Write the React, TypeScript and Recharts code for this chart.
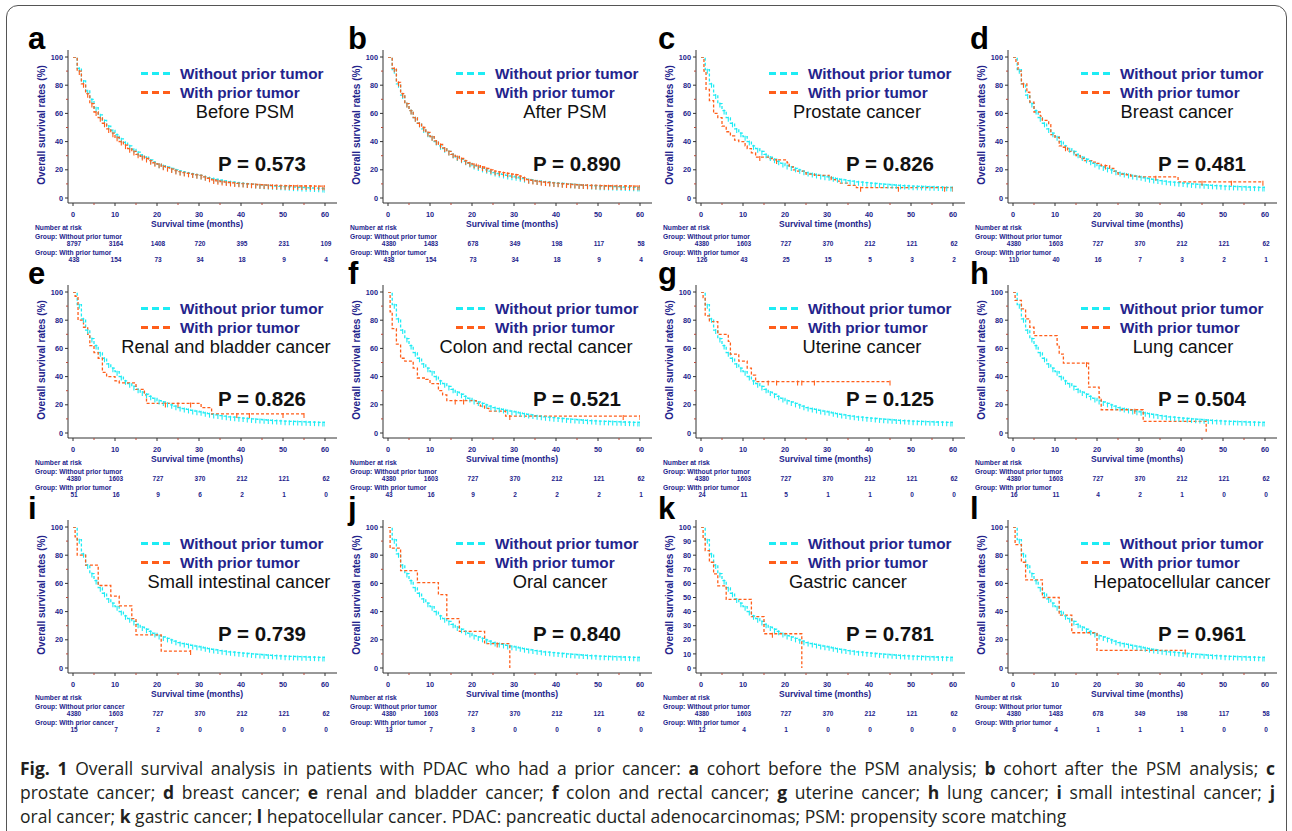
import React from 'react';
import { LineChart, Line, XAxis, YAxis } from 'recharts';

// ---------------- data ----------------
const xTicks = [0, 5, 10, 15, 20, 25, 30, 35, 40, 45, 50, 55, 60];
const yTicks = [0, 10, 20, 30, 40, 50, 60, 70, 80, 90, 100];
const riskTimes = [0, 10, 20, 30, 40, 50, 60];

// monthly survival (%), index = month
const survWithoutBeforePSM = [100,92,83,76,70,64,59,55,51,48,45,42,39.5,37,34.5,32.5,30.5,29,27,25.5,24,23,22,21,20,19.2,18.5,17.8,17.2,16.6,16,15.2,14.5,13.8,13.2,12.6,12.1,11.6,11.2,10.8,10.4,10.1,9.8,9.5,9.3,9.1,8.9,8.7,8.5,8.3,8.1,7.9,7.7,7.6,7.5,7.3,7.2,7.1,7.0,6.8,6.6];
const survWithBeforePSM = [100,90,81,74,67,61,57,53,49,46,43,40,37.5,35,33,31,29.5,28,26.5,25,24,22.5,21.5,20.5,19.5,18.7,18,17.5,17,16.5,16,15,14,12.8,12.2,11.7,11.3,11,10.7,10.4,10.2,10,9.8,9.6,9.4,9.3,9.1,9,8.9,8.8,8.7,8.7,8.6,8.6,8.5,8.5,8.5,8.4,8.4,8.4,8.4];
const survWithoutMain = [100,91,81,73,67,62,57,53,49,46,43.5,40,37,35,33,31,29,27.5,26,24.5,23,22,21,20,19,18,17.3,16.7,16,15.5,15,14.3,13.7,13.2,12.8,12.3,11.9,11.5,11.2,10.9,10.6,10.3,10,9.8,9.6,9.4,9.2,9,8.8,8.6,8.4,8.3,8.2,8.1,8,7.9,7.8,7.7,7.6,7.5,7.4];
const survWithAfterPSM = [100,92,82,74,67,62,57,53,50,46.5,43.5,40.5,38,35.5,33,31,29.5,28,26.5,25,24,23,22,21,20,19,18.5,18,17.5,17,16.5,15.5,14.5,13,12.5,12,11.6,11.3,11,10.7,10.4,10.1,9.9,9.7,9.5,9.3,9.2,9.1,9,8.9,8.8,8.7,8.7,8.6,8.6,8.5,8.5,8.5,8.4,8.4,8.4];

// step curves [month, survival %] for "with prior tumor"
const stepsProstate = [[0,100],[0.7,90],[1.2,77],[2,69],[3,60],[4,57],[5,51],[6,47],[7,44],[8,41],[9,40],[10.5,37],[11,35],[12,32],[13,29],[16,28],[17,27],[20.5,25],[21,22],[22,20],[23,19],[25,17],[27,16],[30.5,15],[31,13],[32,12],[33,10.5],[35,9],[37,7.3],[60,7.3]];
const censorProstate = [14, 18, 38, 47, 58];
const stepsBreast = [[0,100],[0.7,96],[1.2,90],[2,81],[3.3,75],[4,68],[5,61],[6.5,58],[7,55],[8.5,52],[9,45],[10,43],[11,37],[12,36],[13,33],[14.5,32],[15,30],[16,28],[17,26.5],[19,25.5],[20,24.5],[21,23],[23,21],[24,19],[25,17],[27,16.5],[28,15.5],[30,15],[39.3,11.5],[59.5,11.5]];
const censorBreast = [2.5, 12.5, 22, 34, 45, 52];
const stepsRenal = [[0,100],[0.5,97],[1.2,80],[2.5,75],[3.5,70],[4,62],[5,57],[6,53],[7,43],[8,40],[10,37],[11,35.5],[15,31],[17,27],[17.5,21],[30.5,18],[33,13.5],[55,13.5]];
const censorRenal = [22, 25, 28, 39, 42, 50];
const stepsColon = [[0,100],[0.5,86],[1,74],[2,63],[3,53],[4,51],[6,46],[7,39],[9,38],[10,35],[12,30],[13,27],[14,23],[21,21],[22,19],[23,17.5],[24,15.5],[28,12],[60,12]];
const censorColon = [16, 18, 29, 56];
const stepsUterine = [[0,100],[0.5,96],[1,83],[2,79],[4,70],[6.5,65],[7,56],[9,51],[11,46],[12,41],[13,36.5],[45,36.5]];
const censorUterine = [16, 18, 23, 24, 27];
const stepsLung = [[0,100],[0.5,94],[2,88],[3,81],[4,75],[5,69],[10.5,62.5],[11,56],[12,49.5],[18,32.5],[20.5,25],[21,16.5],[31,8.2],[46,8.2],[46,0]];
const censorLung = [17.5, 29];
const stepsSmallInt = [[0,100],[0.5,93],[1,80],[3,73],[6,58.5],[9,51],[11,44],[14,35],[15,23.5],[21,12],[28,12]];
const censorSmallInt = [];
const stepsOral = [[0,100],[0.5,85],[3,69],[7,60.5],[12,52],[14,35],[17,26],[23,17.3],[29,17.3],[29,0]];
const censorOral = [26];
const stepsGastric = [[0,100],[0.5,91.7],[1,83.3],[2,75],[3,66.7],[4,58.3],[6,48.6],[12,36.4],[15,24.3],[24,24.3],[24,0]];
const censorGastric = [17];
const stepsHcc = [[0,100],[0.5,87.5],[2,75],[3,62.5],[7,50],[11,37.5],[14,25],[20,12.5],[41,12.5]];
const censorHcc = [];

// numbers at risk at 0,10,...,60 months
const riskWithoutBefore = [8797, 3164, 1408, 720, 395, 231, 109];
const riskWithBefore = [438, 154, 73, 34, 18, 9, 4];
const riskWithoutAfter = [4380, 1483, 678, 349, 198, 117, 58];
const riskWithAfter = [438, 154, 73, 34, 18, 9, 4];
const riskWithoutMain = [4380, 1603, 727, 370, 212, 121, 62];
const riskProstate = [126, 43, 25, 15, 5, 3, 2];
const riskBreast = [110, 40, 16, 7, 3, 2, 1];
const riskRenal = [51, 16, 9, 6, 2, 1, 0];
const riskColon = [43, 16, 9, 2, 2, 2, 1];
const riskUterine = [24, 11, 5, 1, 1, 0, 0];
const riskLung = [16, 11, 4, 2, 1, 0, 0];
const riskSmallInt = [15, 7, 2, 0, 0, 0, 0];
const riskOral = [13, 7, 3, 0, 0, 0, 0];
const riskGastric = [12, 4, 1, 0, 0, 0, 0];
const riskHcc = [8, 4, 1, 1, 1, 0, 0];

const panelLetters = ['a','b','c','d','e','f','g','h','i','j','k','l'];
const subtitles = ['Before PSM','After PSM','Prostate cancer','Breast cancer','Renal and bladder cancer','Colon and rectal cancer','Uterine cancer','Lung cancer','Small intestinal cancer','Oral cancer','Gastric cancer','Hepatocellular cancer'];
const pValues = ['0.573','0.890','0.826','0.481','0.826','0.521','0.125','0.504','0.739','0.840','0.781','0.961'];

// ---------------- helpers ----------------
type Pt = { t: number; s: number; c?: boolean };

const monthlySeries = (vals: number[]): Pt[] =>
  vals.flatMap((s, t) => (t < vals.length - 1 ? [{ t, s, c: false }, { t: t + 0.5, s, c: t > 0 }] : [{ t, s, c: true }]));

const stepSeries = (steps: number[][], censor: number[]): Pt[] => {
  const pts: Pt[] = steps.map(([t, s], i) => ({ t, s, c: i === steps.length - 1 && s > 0 }));
  censor.forEach((ct) => {
    let s = steps[0][1];
    steps.forEach(([t, v]) => { if (t <= ct) s = v; });
    pts.push({ t: ct, s, c: true });
  });
  return pts.slice().sort((a, b) => a.t - b.t);
};

const CYAN = '#1EECF4';
const ORANGE = '#FF5E1A';
const NAVY = '#24248C';
const FONT = '"Liberation Sans", Arial, Helvetica, sans-serif';

const COL_X0 = [73, 388, 701, 1013];
const ROW_Y100 = [57, 292, 527];
const LETTER_X = [28, 348, 658, 970];
const SUB_CX = [172, 177, 156, 164, 153, 148, 161, 170, 166, 172, 147, 169];
const PLOT_W = 252;
const PLOT_H = 141;

interface Panel {
  without: Pt[];
  withP: Pt[];
  riskWithout: number[];
  riskWith: number[];
  word: string;
  yAll?: boolean;
}

const panels: Panel[] = [
  { without: monthlySeries(survWithoutBeforePSM), withP: monthlySeries(survWithBeforePSM), riskWithout: riskWithoutBefore, riskWith: riskWithBefore, word: 'tumor' },
  { without: monthlySeries(survWithoutMain), withP: monthlySeries(survWithAfterPSM), riskWithout: riskWithoutAfter, riskWith: riskWithAfter, word: 'tumor' },
  { without: monthlySeries(survWithoutMain), withP: stepSeries(stepsProstate, censorProstate), riskWithout: riskWithoutMain, riskWith: riskProstate, word: 'tumor' },
  { without: monthlySeries(survWithoutMain), withP: stepSeries(stepsBreast, censorBreast), riskWithout: riskWithoutMain, riskWith: riskBreast, word: 'tumor' },
  { without: monthlySeries(survWithoutMain), withP: stepSeries(stepsRenal, censorRenal), riskWithout: riskWithoutMain, riskWith: riskRenal, word: 'tumor' },
  { without: monthlySeries(survWithoutMain), withP: stepSeries(stepsColon, censorColon), riskWithout: riskWithoutMain, riskWith: riskColon, word: 'tumor' },
  { without: monthlySeries(survWithoutMain), withP: stepSeries(stepsUterine, censorUterine), riskWithout: riskWithoutMain, riskWith: riskUterine, word: 'tumor' },
  { without: monthlySeries(survWithoutMain), withP: stepSeries(stepsLung, censorLung), riskWithout: riskWithoutMain, riskWith: riskLung, word: 'tumor' },
  { without: monthlySeries(survWithoutMain), withP: stepSeries(stepsSmallInt, censorSmallInt), riskWithout: riskWithoutMain, riskWith: riskSmallInt, word: 'cancer' },
  { without: monthlySeries(survWithoutMain), withP: stepSeries(stepsOral, censorOral), riskWithout: riskWithoutMain, riskWith: riskOral, word: 'tumor' },
  { without: monthlySeries(survWithoutMain), withP: stepSeries(stepsGastric, censorGastric), riskWithout: riskWithoutMain, riskWith: riskGastric, word: 'tumor', yAll: true },
  { without: monthlySeries(survWithoutMain), withP: stepSeries(stepsHcc, censorHcc), riskWithout: riskWithoutAfter, riskWith: riskHcc, word: 'tumor' },
];

const makeDot = (color: string) => (props: any) => {
  const { cx, cy, payload, index } = props;
  if (!payload || !payload.c || cx == null || cy == null) return <g key={`n${index}`} />;
  return <line key={`c${index}`} x1={cx} x2={cx} y1={cy - 1} y2={cy + 4} stroke={color} strokeWidth={1.1} />;
};

const makeXTick = (p: Panel) => (props: any) => {
  const { x, y, payload } = props;
  const v = payload.value as number;
  const major = v % 10 === 0;
  const ri = riskTimes.indexOf(v);
  return (
    <g>
      <line x1={x} x2={x} y1={y} y2={y + (major ? 3 : 2)} stroke={major ? '#333' : '#b84a3a'} strokeWidth={1} />
      {major && (
        <text x={x} y={y + 13.5} textAnchor="middle" fontSize={7.3} fontWeight={700} fill={NAVY} fontFamily={FONT}>{v}</text>
      )}
      {ri >= 0 && (
        <text x={x + 1} y={y + 42.5} textAnchor="middle" fontSize={6.5} fontWeight={700} fill={NAVY} fontFamily={FONT}>{p.riskWithout[ri]}</text>
      )}
      {ri >= 0 && (
        <text x={x + 1} y={y + 58.5} textAnchor="middle" fontSize={6.5} fontWeight={700} fill={NAVY} fontFamily={FONT}>{p.riskWith[ri]}</text>
      )}
    </g>
  );
};

const makeYTick = (p: Panel) => (props: any) => {
  const { x, y, payload } = props;
  const v = payload.value as number;
  const major = p.yAll ? true : v % 20 === 0;
  return (
    <g>
      <line x1={x} x2={x - (major ? 3 : 2)} y1={y} y2={y} stroke={major ? '#333' : '#b84a3a'} strokeWidth={1} />
      {major && (
        <text x={x - 5} y={y + 2.6} textAnchor="end" fontSize={7.3} fontWeight={700} fill={NAVY} fontFamily={FONT}>{v}</text>
      )}
    </g>
  );
};

const KMChart = ({ p, idx }: { p: Panel; idx: number }) => {
  const col = idx % 4;
  const row = Math.floor(idx / 4);
  const x0 = COL_X0[col];
  const y100 = ROW_Y100[row];
  return (
    <div style={{ position: 'absolute', left: x0 - 60, top: y100 - 20, width: 334, height: 231 }}>
      <LineChart width={334} height={231} margin={{ top: 13, right: 10, bottom: 35, left: 0 }}>
        <XAxis
          type="number"
          dataKey="t"
          domain={[0, 60]}
          ticks={xTicks}
          interval={0}
          padding={{ left: 5, right: 12 }}
          height={30}
          tickSize={0}
          tickMargin={0}
          tickLine={false}
          axisLine={{ stroke: '#333', strokeWidth: 1 }}
          tick={makeXTick(p)}
          allowDataOverflow
        />
        <YAxis
          type="number"
          dataKey="s"
          domain={[0, 100]}
          ticks={yTicks}
          interval={0}
          padding={{ top: 7, bottom: 5 }}
          width={55}
          tickSize={0}
          tickMargin={0}
          tickLine={false}
          axisLine={{ stroke: '#333', strokeWidth: 1 }}
          tick={makeYTick(p)}
          allowDataOverflow
        />
        <Line
          data={p.without}
          dataKey="s"
          type="stepAfter"
          stroke={CYAN}
          strokeWidth={1.3}
          strokeDasharray="3 2"
          dot={makeDot(CYAN)}
          activeDot={false}
          isAnimationActive={false}
        />
        <Line
          data={p.withP}
          dataKey="s"
          type="stepAfter"
          stroke={ORANGE}
          strokeWidth={1.3}
          strokeDasharray="3 2"
          dot={makeDot(ORANGE)}
          activeDot={false}
          isAnimationActive={false}
        />
      </LineChart>
    </div>
  );
};

const PanelTexts = ({ p, idx }: { p: Panel; idx: number }) => {
  const col = idx % 4;
  const row = Math.floor(idx / 4);
  const x0 = COL_X0[col];
  const y100 = ROW_Y100[row];
  const y0 = y100 + PLOT_H;
  return (
    <g fontFamily={FONT}>
      <text x={LETTER_X[col]} y={y100 - 8} fontSize={31} fontWeight={700} fill="#000">{panelLetters[idx]}</text>
      <line x1={x0 + 68} x2={x0 + 98} y1={y100 + 16.5} y2={y100 + 16.5} stroke={CYAN} strokeWidth={3} strokeDasharray="7 4" />
      <line x1={x0 + 68} x2={x0 + 98} y1={y100 + 35.5} y2={y100 + 35.5} stroke={ORANGE} strokeWidth={3} strokeDasharray="7 4" />
      <text x={x0 + 107} y={y100 + 22} fontSize={15.3} fontWeight={700} fill={NAVY}>Without prior tumor</text>
      <text x={x0 + 107} y={y100 + 41} fontSize={15.3} fontWeight={700} fill={NAVY}>With prior tumor</text>
      <text x={x0 + SUB_CX[idx]} y={y100 + 61} fontSize={18.3} textAnchor="middle" fill="#111">{subtitles[idx]}</text>
      <text x={x0 + 145} y={y100 + 114} fontSize={20.5} fontWeight={700} fill="#111">{`P = ${pValues[idx]}`}</text>
      <text
        x={x0 - 32}
        y={y100 + 68}
        fontSize={10}
        fontWeight={700}
        fill={NAVY}
        textAnchor="middle"
        dominantBaseline="central"
        transform={`rotate(-90 ${x0 - 32} ${y100 + 68})`}
      >
        Overall survival rates (%)
      </text>
      <text x={x0 + PLOT_W / 2 - 2} y={y0 + 28.5} fontSize={9.2} fontWeight={700} fill={NAVY} textAnchor="middle" textLength={92} lengthAdjust="spacingAndGlyphs">Survival time (months)</text>
      <text x={x0 - 38} y={y0 + 31.5} fontSize={6.7} fontWeight={700} fill={NAVY}>Number at risk</text>
      <text x={x0 - 38} y={y0 + 40.5} fontSize={6.7} fontWeight={700} fill={NAVY}>{`Group: Without prior ${p.word}`}</text>
      <text x={x0 - 38} y={y0 + 56.5} fontSize={6.7} fontWeight={700} fill={NAVY}>{`Group: With prior ${p.word}`}</text>
    </g>
  );
};

const capStyle: React.CSSProperties = {
  position: 'absolute',
  left: 20,
  width: 1255,
  fontFamily: '"Open Sans", "Noto Sans", sans-serif',
  fontSize: 17.5,
  color: '#231f20',
  whiteSpace: 'nowrap',
  lineHeight: '24px',
};

export default function App() {
  return (
    <div style={{ position: 'absolute', left: 0, top: 0, width: 1292, height: 831, background: '#fff', overflow: 'hidden' }}>
      <div style={{ position: 'absolute', left: 6, top: 5, width: 1279, height: 840, border: '1.5px solid #555', borderRadius: 12 }} />
      {panels.map((p, i) => (
        <KMChart key={i} p={p} idx={i} />
      ))}
      <svg width={1292} height={831} style={{ position: 'absolute', left: 0, top: 0, pointerEvents: 'none' }}>
        {panels.map((p, i) => (
          <PanelTexts key={i} p={p} idx={i} />
        ))}
      </svg>
      <div style={{ ...capStyle, top: 756, whiteSpace: 'normal', textAlign: 'justify', textAlignLast: 'justify' as any }}>
        <b>Fig. 1</b> Overall survival analysis in patients with PDAC who had a prior cancer: <b>a</b> cohort before the PSM analysis; <b>b</b> cohort after the PSM analysis; <b>c</b>
      </div>
      <div style={{ ...capStyle, top: 780, whiteSpace: 'normal', textAlign: 'justify', textAlignLast: 'justify' as any }}>
        prostate cancer; <b>d</b> breast cancer; <b>e</b> renal and bladder cancer; <b>f</b> colon and rectal cancer; <b>g</b> uterine cancer; <b>h</b> lung cancer; <b>i</b> small intestinal cancer; <b>j</b>
      </div>
      <div style={{ ...capStyle, top: 804 }}>
        oral cancer; <b>k</b> gastric cancer; <b>l</b> hepatocellular cancer. PDAC: pancreatic ductal adenocarcinomas; PSM: propensity score matching
      </div>
    </div>
  );
}
